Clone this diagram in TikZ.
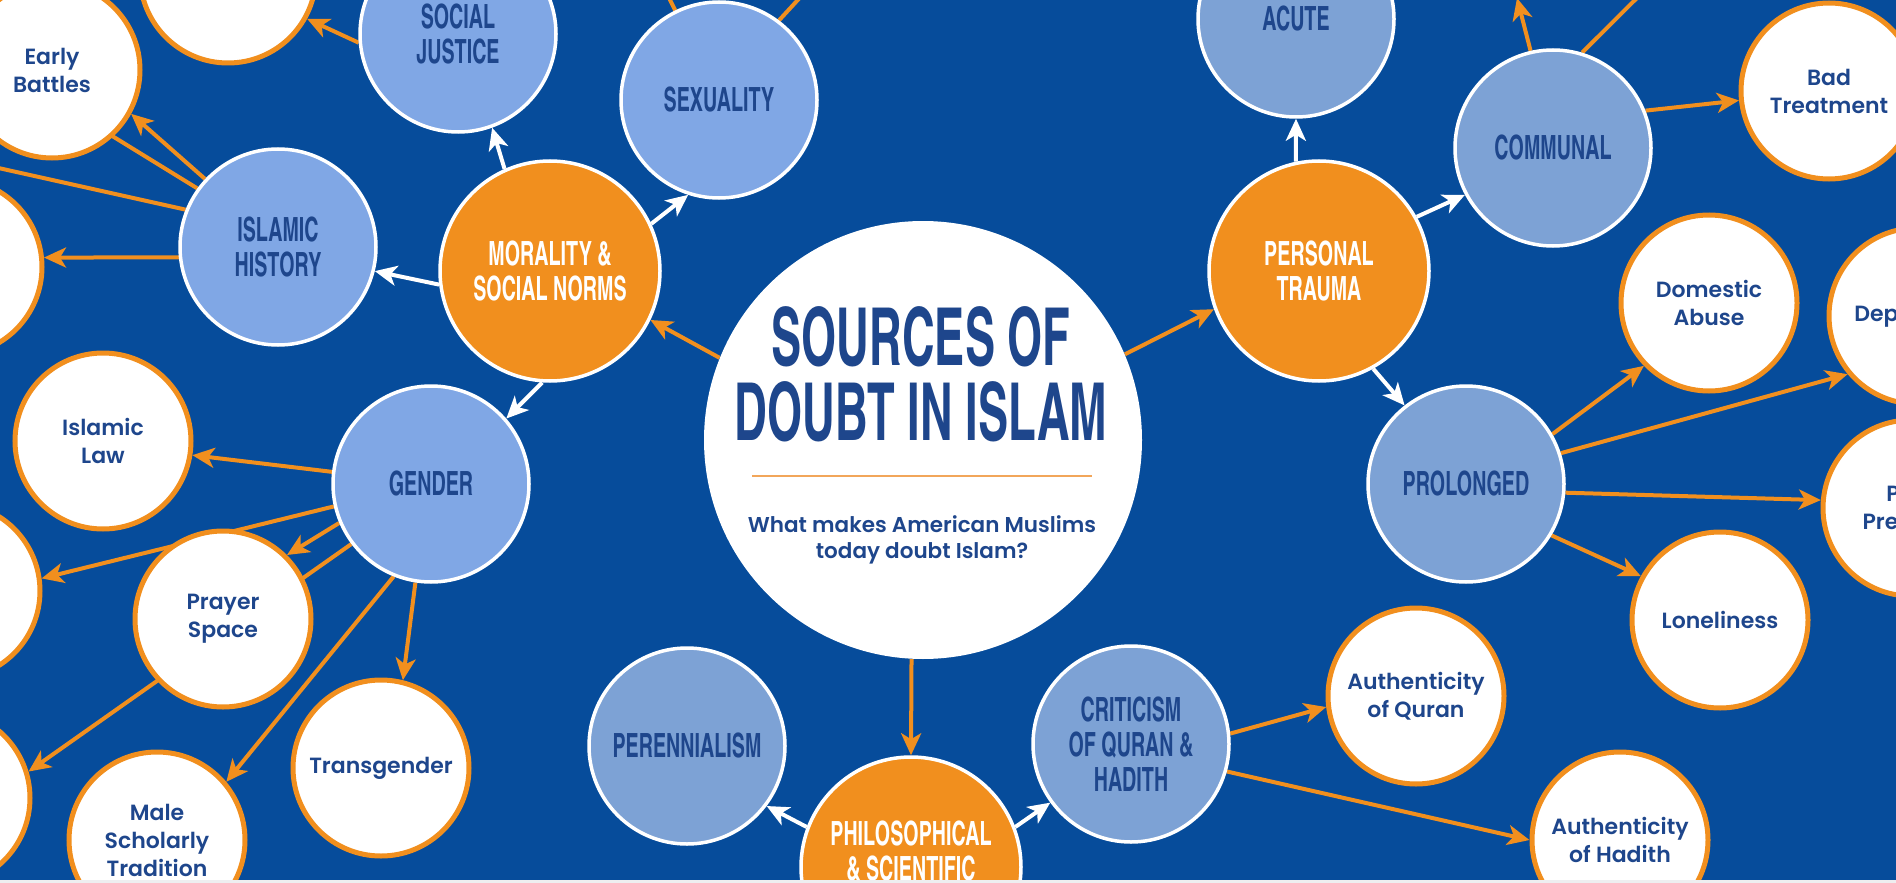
\documentclass[tikz,border=0pt]{standalone}
\usepackage{fontspec}
\setmainfont{Poppins}
\newfontfamily\pop{Poppins SemiBold}
\newfontfamily\bebas{texgyreheroscn-bold.otf}[FakeStretch=0.72]
\newfontfamily\bebastitle{texgyreheroscn-bold.otf}[FakeStretch=0.69]
\usetikzlibrary{arrows.meta}
\pgfdeclarelayer{back}
\pgfdeclarelayer{edges}
\pgfsetlayers{back,edges,main}
\definecolor{bgblue}{RGB}{6,76,155}
\definecolor{orng}{RGB}{241,143,30}
\definecolor{lblue}{RGB}{128,167,229}
\definecolor{gblue}{RGB}{125,162,213}
\definecolor{navy}{RGB}{30,70,140}
\definecolor{stripgrey}{RGB}{238,238,240}
\definecolor{divorange}{RGB}{242,166,90}
\tikzset{
  wc/.style={circle, fill=white, draw=orng, line width=2.5pt, minimum size=88pt, inner sep=0pt,
    font=\pop\fontsize{11pt}{14pt}\selectfont, text=navy, align=center},
  lbc/.style={circle, fill=lblue, draw=white, line width=1.75pt, minimum size=98pt, inner sep=0pt,
    font=\bebas\fontsize{16.7pt}{17.5pt}\selectfont, text=navy, align=center},
  gbc/.style={lbc, fill=gblue},
  oc/.style={circle, fill=orng, draw=white, line width=1.75pt, minimum size=110pt, inner sep=0pt,
    font=\bebas\fontsize{16.7pt}{17.5pt}\selectfont, text=white, align=center},
  titletext/.style={font=\bebastitle\fontsize{40pt}{42pt}\selectfont, text=navy, inner sep=0pt, anchor=base},
  subtext/.style={font=\pop\fontsize{10.75pt}{13pt}\selectfont, text=navy, inner sep=0pt, anchor=base},
  oarr/.style={draw=orng, line width=2pt, -{Stealth[length=11pt,width=10pt,inset=3pt]}},
  warr/.style={draw=white, line width=2pt, -{Stealth[length=11pt,width=10pt,inset=3pt]}},
  oline/.style={draw=orng, line width=2pt},
}
\begin{document}
\begin{tikzpicture}[x=0.5pt,y=-0.5pt]
\useasboundingbox (0,0) rectangle (1896,883);
\begin{pgfonlayer}{back}
\fill[bgblue] (0,0) rectangle (1896,883);
\end{pgfonlayer}

% central circle
\node[circle, fill=white, minimum size=219pt, inner sep=0pt] (c) at (923,440) {};
\node[titletext] (t1) at (921,365) {SOURCES OF};
\node[titletext] (t2) at (921,440) {DOUBT IN ISLAM};
\coordinate (dl) at (752,476);
\coordinate (dr) at (1092,476);
\draw[divorange, line width=1.25pt] (dl) -- (dr);
\node[subtext] (s1) at (922,532) {What makes American Muslims};
\node[subtext] (s2) at (922,558) {today doubt Islam?};

% white circles
\node[wc] (TL) at (228,-25) {};
\node[wc] (EB) at (52,70) {Early\\Battles};
\node[wc] (LM1) at (-46,267) {};
\node[wc] (IL) at (103,441) {Islamic\\Law};
\node[wc] (LM2) at (-48,591) {};
\node[wc] (PS) at (223,619) {Prayer\\Space};
\node[wc] (LM3) at (-58,798) {};
\node[wc] (MST) at (157,840) {Male\\Scholarly\\Tradition};
\node[wc] (TG) at (381,768) {Transgender};
\node[wc] (AQ) at (1416,696) {Authenticity\\of Quran};
\node[wc] (AH) at (1620,840) {Authenticity\\of Hadith};
\node[wc] (BT) at (1829,91) {Bad\\Treatment};
\node[wc] (DA) at (1709,303) {Domestic\\Abuse};
\node[wc] (DE) at (1917,316) {Depression};
\node[wc] (PP) at (1911,508) {Peer\\Pressure};
\node[wc] (LO) at (1720,620) {Loneliness};

% light blue circles
\node[lbc] (SJ) at (458,34) {SOCIAL\\JUSTICE};
\node[lbc] (IH) at (278,247) {ISLAMIC\\HISTORY};
\node[lbc] (SEX) at (719,100) {SEXUALITY};
\node[lbc] (GEN) at (431,484) {GENDER};
\node[gbc] (PER) at (687,746) {PERENNIALISM};
\node[gbc] (CR) at (1131,744) {CRITICISM\\OF QURAN \&\\HADITH};
\node[gbc] (AC) at (1296,19) {ACUTE};
\node[gbc] (CO) at (1553,148) {COMMUNAL};
\node[gbc] (PR) at (1466,484) {PROLONGED};

% orange circles
\node[oc] (MOR) at (550,271) {MORALITY \&\\SOCIAL NORMS};
\node[oc] (PT) at (1319,271) {PERSONAL\\TRAUMA};
\node[oc] (PH) at (911,867) {};
\node[font=\bebas\fontsize{16.7pt}{17.5pt}\selectfont, text=white, align=center, inner sep=0pt] (PHt) at (911,851) {PHILOSOPHICAL\\\& SCIENTIFIC};

% free ends
\coordinate (ihA) at (-60,30);
\coordinate (ihC) at (-60,155);
\coordinate (sxA) at (655,-30);
\coordinate (sxB) at (830,-35);
\coordinate (coA) at (1517,-2);
\coordinate (coB) at (1670,-35);

\begin{pgfonlayer}{edges}
\draw[oarr] (c.158) -- (MOR.-26);
\draw[oarr] (c.23) -- (PT.200);
\draw[oarr] (c.-93) -- (PH.north);
\draw[warr] (MOR.114) -- (SJ.-70);
\draw[warr] (MOR.25) -- (SEX.252);
\draw[warr] (MOR.187) -- (IH.-14);
\draw[warr] (MOR.-94) -- (GEN.41);
\draw[warr] (PT.102) -- (AC.-90);
\draw[warr] (PT.29) -- (CO.208);
\draw[warr] (PT.-61) -- (PR.128);
\draw[warr] (PH.159) -- (PER.-37);
\draw[warr] (PH.21) -- (CR.216);
\draw[oarr] (SJ.185) -- (TL.-29);
\draw[oarr] (IH.137) -- (EB.-29);
\draw[oarr] (IH.186) -- (LM1.6);
\draw[oline] (IH.144) -- (ihA);
\draw[oline] (IH.158) -- (ihC);
\draw[oarr] (GEN.173) -- (IL.-9);
\draw[oarr] (GEN.193) -- (LM2.8);
\draw[oarr] (GEN.203) -- (PS.45);
\draw[oarr] (GEN.217) -- (LM3.17);
\draw[oarr] (GEN.-112) -- (MST.40);
\draw[oarr] (GEN.-99) -- (TG.76);
\draw[oline] (SEX.116) -- (sxA);
\draw[oline] (SEX.53) -- (sxB);
\draw[oarr] (CO.22) -- (BT.186);
\draw[oarr] (CO.103) -- (coA);
\draw[oline] (CO.73) -- (coB);
\draw[oarr] (PR.30) -- (DA.224);
\draw[oarr] (PR.18) -- (DE.220);
\draw[oarr] (PR.-5) -- (PP.175);
\draw[oarr] (PR.-31) -- (LO.151);
\draw[oarr] (CR.6) -- (AQ.187);
\draw[oarr] (CR.-16) -- (AH.180);
\end{pgfonlayer}

\fill[stripgrey] (0,880) rectangle (1896,883);
\end{tikzpicture}
\end{document}
